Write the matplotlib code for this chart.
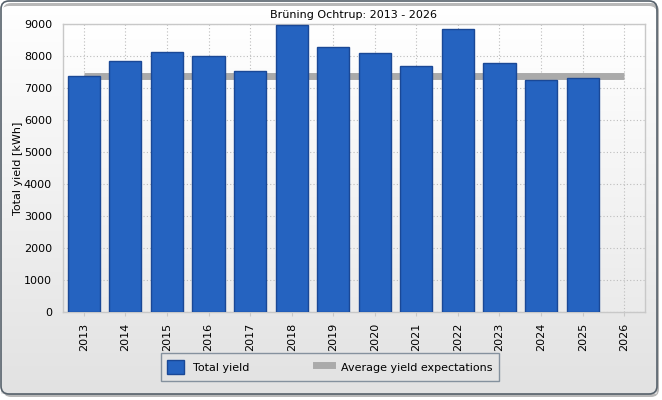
import numpy as np
import matplotlib
matplotlib.use("Agg")
import matplotlib.pyplot as plt
from matplotlib.patches import FancyBboxPatch, Patch
from matplotlib.lines import Line2D

# values
years = ["2013", "2014", "2015", "2016", "2017", "2018", "2019",
         "2020", "2021", "2022", "2023", "2024", "2025", "2026"]
total_yield = [7375, 7840, 8120, 7990, 7520, 8960, 8270,
               8080, 7680, 8830, 7770, 7240, 7300, np.nan]
avg_expectation = [7370] * len(years)

title = "Brüning Ochtrup: 2013 - 2026"
ylabel = "Total yield [kWh]"

bar_col = "#2563c0"
bar_edge = "#1a4896"
avg_col = "#aaaaaa"

fig = plt.figure(figsize=(6.62, 4.0), dpi=100)
fig.patch.set_facecolor("white")

# outer panel with gradient + rounded frame
bg = fig.add_axes([0, 0, 1, 1], zorder=-10)
bg.set_xlim(0, 662)
bg.set_ylim(400, 0)
bg.axis("off")
grad = np.linspace(1.0, 0.0, 256).reshape(-1, 1)
grad_cmap = matplotlib.colors.LinearSegmentedColormap.from_list("g", ["#e2e2e2", "#ffffff"])
shadow = FancyBboxPatch((3, 3), 656, 394, boxstyle="round,pad=0,rounding_size=8",
                        facecolor="#b8b8b8", edgecolor="none")
bg.add_patch(shadow)
panel = FancyBboxPatch((1, 1), 656, 393, boxstyle="round,pad=0,rounding_size=8",
                       facecolor="none", edgecolor="#56616b", linewidth=1.2)
img = bg.imshow(grad, cmap=grad_cmap, extent=(1, 657, 394, 1), aspect="auto", zorder=1)
img.set_clip_path(panel)
bg.add_patch(panel)
panel.set_zorder(2)

# plot area
ax = fig.add_axes([63 / 662, 1 - 312 / 400, (645 - 63) / 662, (312 - 24) / 400])
x = np.arange(len(years))
ax.imshow(np.linspace(0, 1, 256).reshape(-1, 1), origin="upper",
          cmap=matplotlib.colors.LinearSegmentedColormap.from_list("p", ["#ffffff", "#ebebeb"]),
          extent=(-0.5, len(years) - 0.5, 0, 9000), aspect="auto", zorder=0)
ax.set_xlim(-0.5, len(years) - 0.5)
ax.set_ylim(0, 9000)

ax.bar(x, total_yield, width=0.77, color=bar_col, edgecolor=bar_edge, linewidth=1, zorder=3)
ax.plot(x, avg_expectation, color=avg_col, linewidth=5, solid_capstyle="butt", zorder=2)

ax.set_yticks(np.arange(0, 9001, 1000))
ax.set_xticks(x)
ax.set_xticklabels(years, rotation=90, fontsize=8)
ax.tick_params(axis="y", labelsize=8, length=0, pad=8)
ax.tick_params(axis="x", length=3, color="#c8c8c8", pad=5)
ax.grid(True, linestyle=(0, (1, 2)), color="#bdbdbd", linewidth=0.8, zorder=1)
ax.set_axisbelow(True)
for s in ax.spines.values():
    s.set_color("#c8c8c8")
    s.set_linewidth(1)

ax.set_title(title, fontsize=8, pad=4)
fig.text(18 / 662, 1 - 168 / 400, ylabel, rotation=90, fontsize=8, ha="center", va="center")

handles = [Patch(facecolor=bar_col, edgecolor=bar_edge, label="Total yield"),
           Line2D([0], [0], color=avg_col, linewidth=5, label="Average yield expectations")]
leg = fig.legend(handles=handles, loc="center", bbox_to_anchor=(330 / 662, 1 - 367 / 400),
                 ncol=2, fontsize=8, frameon=True, fancybox=False, columnspacing=6,
                 handlelength=1.5, handleheight=1.6, borderpad=0.6)
leg.get_frame().set_edgecolor("#6d7d8d")
leg.get_frame().set_facecolor("none")
leg.get_frame().set_linewidth(1)

fig.savefig("out.png", dpi=100)
